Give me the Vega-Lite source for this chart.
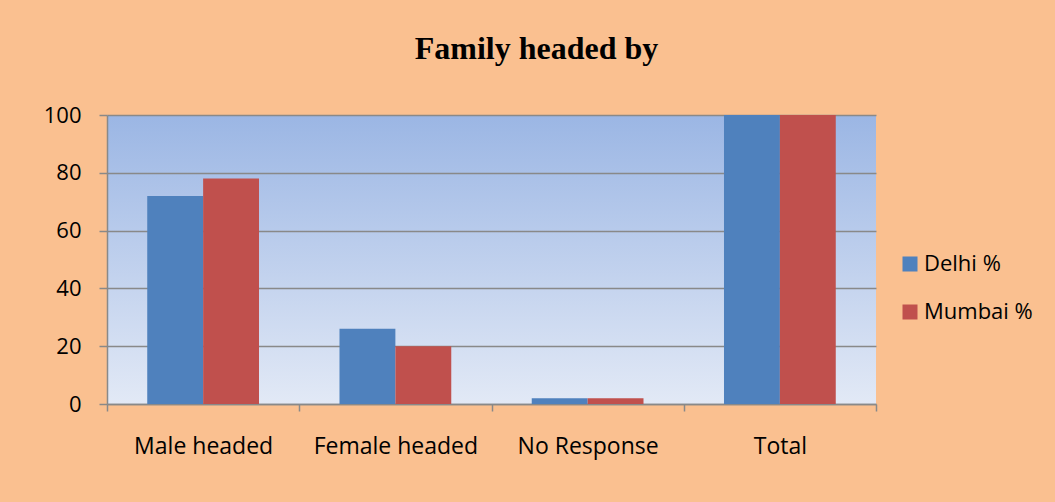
{
  "$schema": "https://vega.github.io/schema/vega-lite/v6.json",
  "width": 769,
  "height": 289,
  "autosize": {"type": "none"},
  "padding": {"left": 107, "top": 115, "right": 179, "bottom": 98},
  "background": "#FAC090",
  "title": {
    "text": "Family headed by",
    "font": "Liberation Serif",
    "fontSize": 32,
    "fontWeight": "bold",
    "color": "black",
    "anchor": "middle",
    "dx": 45,
    "offset": 13,
    "baseline": "alphabetic"
  },
  "data": {
    "values": [
      {"category": "Male headed", "city": "Delhi %", "value": 72},
      {"category": "Male headed", "city": "Mumbai %", "value": 78},
      {"category": "Female headed", "city": "Delhi %", "value": 26},
      {"category": "Female headed", "city": "Mumbai %", "value": 20},
      {"category": "No Response", "city": "Delhi %", "value": 2},
      {"category": "No Response", "city": "Mumbai %", "value": 2},
      {"category": "Total", "city": "Delhi %", "value": 100},
      {"category": "Total", "city": "Mumbai %", "value": 100}
    ]
  },
  "mark": {"type": "bar"},
  "encoding": {
    "x": {
      "field": "category",
      "type": "nominal",
      "sort": ["Male headed", "Female headed", "No Response", "Total"],
      "scale": {"paddingInner": 0, "paddingOuter": 0},
      "axis": {
        "title": null,
        "labelAngle": 0,
        "tickBand": "extent",
        "ticks": true,
        "tickSize": 7,
        "tickColor": "#898989",
        "tickWidth": 1.5,
        "domainColor": "#898989",
        "domainWidth": 1.5,
        "labelFont": "Open Sans",
        "labelFontSize": 23,
        "labelColor": "black",
        "labelPadding": 42,
        "labelBaseline": "alphabetic",
        "grid": false
      }
    },
    "xOffset": {
      "field": "city",
      "type": "nominal",
      "sort": ["Delhi %", "Mumbai %"],
      "scale": {"paddingInner": 0, "paddingOuter": 0.72}
    },
    "y": {
      "field": "value",
      "type": "quantitative",
      "scale": {"domain": [0, 100], "nice": false},
      "axis": {
        "title": null,
        "values": [0, 20, 40, 60, 80, 100],
        "tickSize": 8,
        "tickColor": "#898989",
        "tickWidth": 1.5,
        "domainColor": "#898989",
        "domainWidth": 1.5,
        "grid": true,
        "gridColor": "#898989",
        "gridWidth": 1.5,
        "labelFont": "Open Sans",
        "labelFontSize": 22,
        "labelPadding": 18,
        "labelColor": "black"
      }
    },
    "color": {
      "field": "city",
      "type": "nominal",
      "scale": {"domain": ["Delhi %", "Mumbai %"], "range": ["#4F81BD", "#C0504D"]},
      "legend": {
        "title": null,
        "orient": "none",
        "legendX": 792,
        "legendY": 138,
        "symbolType": "square",
        "symbolSize": 225,
        "symbolStrokeWidth": 0,
        "labelFont": "Open Sans",
        "labelFontSize": 22,
        "labelOffset": 3,
        "rowPadding": 26,
        "padding": 0,
        "labelColor": "black"
      }
    }
  },
  "config": {
    "view": {
      "stroke": null,
      "fill": {
        "gradient": "linear",
        "x1": 0, "y1": 0, "x2": 0, "y2": 1,
        "stops": [
          {"offset": 0, "color": "#9BB6E4"},
          {"offset": 1, "color": "#E2E9F6"}
        ]
      }
    }
  }
}
